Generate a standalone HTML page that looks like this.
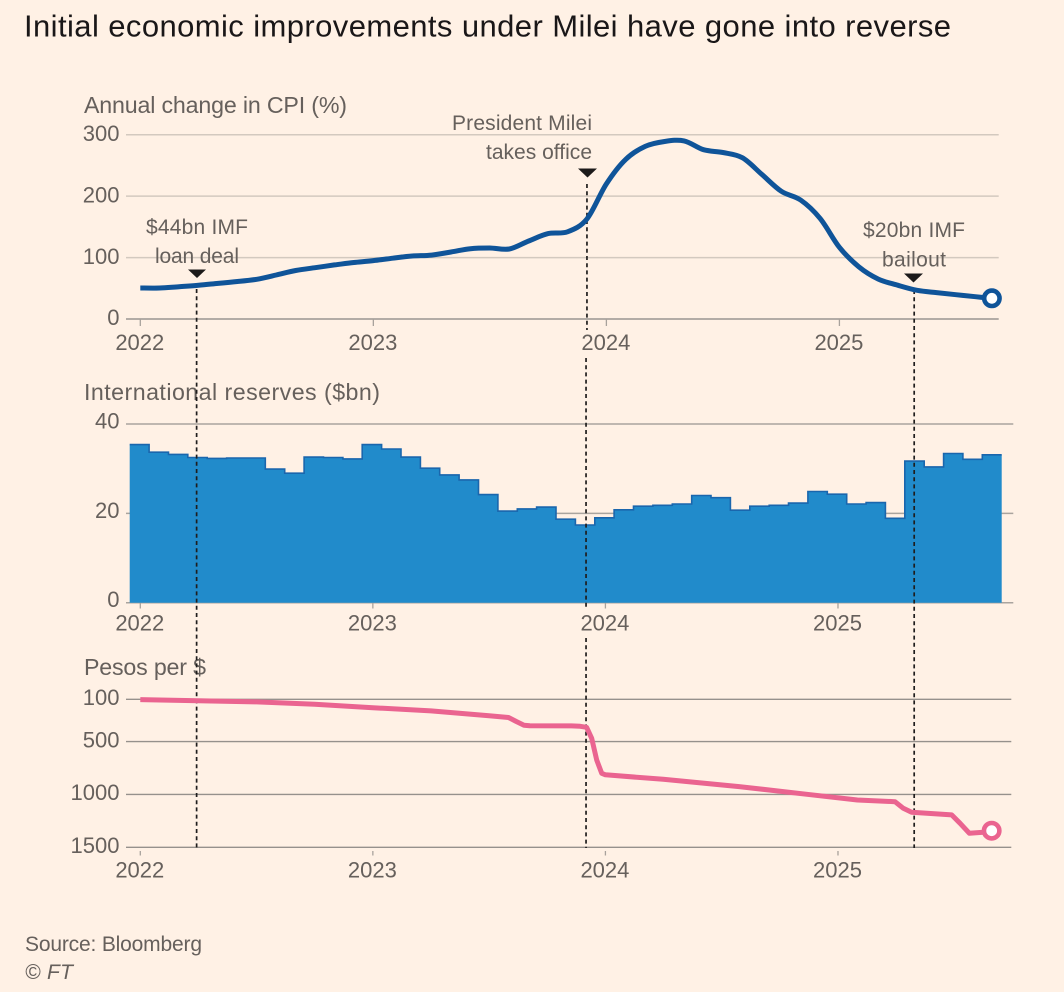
<!DOCTYPE html>
<html lang="en">
<head>
<meta charset="utf-8">
<title>Initial economic improvements under Milei have gone into reverse</title>
<style>
html,body{margin:0;padding:0;background:#fff1e5;}
svg{display:block;font-family:"Liberation Sans",sans-serif;}
.lab{fill:#66605c;font-size:22px;}
.ttl{fill:#66605c;font-size:23.2px;}
.note{fill:#66605c;font-size:21px;}
</style>
</head>
<body>
<svg id="chart" xmlns="http://www.w3.org/2000/svg" width="1064" height="992" viewBox="0 0 1064 992">
  <rect width="1064" height="992" fill="#fff1e5"/>
  <text x="24" y="36.5" font-size="31" fill="#1a1718" textLength="927" lengthAdjust="spacing">Initial economic improvements under Milei have gone into reverse</text>
  <text class="ttl" x="84" y="113" textLength="263" lengthAdjust="spacing">Annual change in CPI (%)</text>
  <text class="ttl" x="84" y="400" textLength="296" lengthAdjust="spacing">International reserves ($bn)</text>
  <text class="ttl" x="84" y="675" textLength="122" lengthAdjust="spacing">Pesos per $</text>
  <g id="layer"></g>
  <g>
    <text class="note" x="146" y="234" textLength="102" lengthAdjust="spacing">$44bn IMF</text>
    <text class="note" x="155" y="263" textLength="84" lengthAdjust="spacing">loan deal</text>
    <text class="note" x="452" y="130" textLength="140" lengthAdjust="spacing">President Milei</text>
    <text class="note" x="486" y="159" textLength="106" lengthAdjust="spacing">takes office</text>
    <text class="note" x="863" y="237" textLength="102" lengthAdjust="spacing">$20bn IMF</text>
    <text class="note" x="882" y="266.5" textLength="64" lengthAdjust="spacing">bailout</text>
    <polygon points="188,269.5 206,269.5 197,278" fill="#1c1a1a"/>
    <polygon points="578,168.5 597,168.5 587.5,177.5" fill="#1c1a1a"/>
    <polygon points="904,273.5 923,273.5 913.5,282.5" fill="#1c1a1a"/>
  </g>
  <text x="25" y="951" font-size="21" fill="#66605c" textLength="177" lengthAdjust="spacing">Source: Bloomberg</text>
  <text x="25" y="979" font-size="21" font-style="italic" fill="#66605c" textLength="48" lengthAdjust="spacing">© FT</text>
</svg>
<script>
const years = ["2022","2023","2024","2025"];
const cpiTicks = [0,100,200,300];
const reserveTicks = [0,20,40];
const pesoTicks = [100,500,1000,1500];

const cpiMonths = [0,1,2,3,4,5,6,7,8,9,10,11,12,13,14,15,16,17,18,19,20,21,22,23,24,25,26,27,28,29,30,31,32,33,34,35,36,37,38,39,40,41,42,43,43.85];
const cpiValues = [50.5,50.5,52.6,55,58,61,64.6,71.6,79,83.5,88,92,95,99,102.5,104,109,114.5,115.5,114,127,139,142,163,220,260,281,289,290,275.6,271,262.6,235.5,208,193.7,164,116.7,85,65,55,46.7,43,39.6,36.3,33.7];

const reserveValues = [35.4,33.7,33.2,32.5,32.3,32.4,32.4,29.9,29.0,32.6,32.5,32.2,35.4,34.4,32.6,30.1,28.6,27.5,24.2,20.5,21.0,21.4,18.7,17.4,19.0,20.8,21.6,21.8,22.1,24.0,23.5,20.7,21.6,21.8,22.3,24.9,24.3,22.1,22.4,18.9,31.7,30.4,33.4,32.1,33.1];

const pesoMonths = [0,3,6,9,12,15,18,19,19.4,19.8,20.1,22.25,22.7,23.03,23.29,23.55,23.81,24,26.98,30.9,34.4,37,38.94,39.37,39.8,41.87,42.3,42.78,43.5,43.93];
const pesoValues = [103,113,125,147,179,210,255,272,310,345,350,352,355,365,469,674,800,814,857,926,999,1053,1069,1131,1169,1194,1273,1368,1358,1343];

const eventMonths = [2.9,23,39.85];

const NS = "http://www.w3.org/2000/svg";
const layer = document.getElementById("layer");
function mk(tag, attrs, parent){
  const el = document.createElementNS(NS, tag);
  for (const k in attrs) el.setAttribute(k, attrs[k]);
  (parent || layer).appendChild(el);
  return el;
}
const xTop = m => 140.3 + m * 19.42;
const xLow = m => 140.3 + m * 19.38;
const yCpi = v => 319 - v * 0.6143;
const yRes = v => 602.7 - v * 4.467;
const yPeso = v => 699.3 + (v - 100) * 0.10571;
const barW = (1001.7 - 129.7) / 45;
const xBar = i => 129.7 + i * barW;

/* gridlines */
cpiTicks.forEach(t => {
  const g = mk("line",{x1:126,x2:998.7,y1:yCpi(t),y2:yCpi(t),stroke:t===0?"#a8a29c":"#d3c9bf","stroke-width":t===0?1.7:1.5});
  
  
  const l = mk("text",{x:119.5,y:yCpi(t)+6.2,"text-anchor":"end",class:"lab"});
  l.textContent = t;
  
  
});
reserveTicks.forEach(t => {
  const g = mk("line",{x1:126,x2:1013.3,y1:yRes(t),y2:yRes(t),stroke:"#aaa49e","stroke-width":1.5});
  
  
  const l = mk("text",{x:119.5,y:yRes(t)+4.5,"text-anchor":"end",class:"lab"});
  l.textContent = t;
  
  
});
pesoTicks.forEach(t => {
  const g = mk("line",{x1:126,x2:1011.3,y1:yPeso(t),y2:yPeso(t),stroke:"#96918c","stroke-width":1.4});
  
  
  const l = mk("text",{x:119.5,y:yPeso(t)+5.8,"text-anchor":"end",class:"lab"});
  l.textContent = t;
  
  
});

/* x axes */
years.forEach((yr,i) => {
  const m = i * 12;
  const a = mk("line",{x1:xTop(m),x2:xTop(m),y1:319,y2:326,stroke:"#a8a29c","stroke-width":1.3});
  
  
  const at = mk("text",{x:xTop(m)-0.5,y:350,"text-anchor":"middle",class:"lab"});
  at.textContent = yr;
  
  
  const b = mk("line",{x1:xLow(m),x2:xLow(m),y1:602.7,y2:608.5,stroke:"#a8a29c","stroke-width":1.3});
  
  
  const bt = mk("text",{x:xLow(m)-0.5,y:630.5,"text-anchor":"middle",class:"lab"});
  bt.textContent = yr;
  
  
  const c = mk("line",{x1:xLow(m),x2:xLow(m),y1:851,y2:855.5,stroke:"#a8a29c","stroke-width":1.3});
  
  
  const ct = mk("text",{x:xLow(m)-0.5,y:877.5,"text-anchor":"middle",class:"lab"});
  ct.textContent = yr;
  
  
});

/* reserves stepped area */
let stepPath = "";
reserveValues.forEach((v,i) => {
  stepPath += (i === 0 ? "M" : "L") + xBar(i).toFixed(1) + " " + yRes(v).toFixed(1) + " L" + xBar(i+1).toFixed(1) + " " + yRes(v).toFixed(1) + " ";
});
const area = mk("path",{d:stepPath + "L" + xBar(reserveValues.length).toFixed(1) + " 602.7 L" + xBar(0).toFixed(1) + " 602.7 Z",fill:"#218bcb"});


const areaTop = mk("path",{d:stepPath,fill:"none",stroke:"#1a66ad","stroke-width":1.6});



/* dashed event lines */
const dash = {stroke:"#1f1d1d","stroke-width":1.7,"stroke-dasharray":"4 3.2"};
[
  {x1:xTop(eventMonths[0]),y1:289,y2:848},
  {x1:xTop(eventMonths[1]),y1:184,y2:330},
  {x1:xLow(eventMonths[1]),y1:358,y2:607},
  {x1:xLow(eventMonths[1]),y1:638,y2:848},
  {x1:xTop(eventMonths[2]),y1:290,y2:848}
].forEach(s => {
  const d = mk("line",Object.assign({x1:s.x1,x2:s.x1,y1:s.y1,y2:s.y2},dash));
  
  
});

/* CPI smooth line */
function smooth(pts){
  let d = "M" + pts[0][0].toFixed(1) + " " + pts[0][1].toFixed(1);
  for (let i = 0; i < pts.length - 1; i++){
    const p0 = pts[Math.max(i-1,0)], p1 = pts[i], p2 = pts[i+1], p3 = pts[Math.min(i+2,pts.length-1)];
    const c1x = p1[0] + (p2[0]-p0[0])/6, c1y = p1[1] + (p2[1]-p0[1])/6;
    const c2x = p2[0] - (p3[0]-p1[0])/6, c2y = p2[1] - (p3[1]-p1[1])/6;
    d += " C" + c1x.toFixed(1) + " " + c1y.toFixed(1) + " " + c2x.toFixed(1) + " " + c2y.toFixed(1) + " " + p2[0].toFixed(1) + " " + p2[1].toFixed(1);
  }
  return d;
}
const cpiPts = cpiMonths.map((m,i) => [xTop(m), yCpi(cpiValues[i])]);
const cpiLine = mk("path",{d:smooth(cpiPts),fill:"none",stroke:"#0f5499","stroke-width":5,"stroke-linejoin":"round"});


const cpiEnd = cpiPts[cpiPts.length-1];
const cpiDot = mk("circle",{cx:cpiEnd[0],cy:cpiEnd[1],r:7.7,fill:"#ffffff",stroke:"#0f5499","stroke-width":4.6});



/* pesos line */
const pesoPts = pesoMonths.map((m,i) => [xLow(m), yPeso(pesoValues[i])]);
const pesoLine = mk("polyline",{points:pesoPts.map(p => p[0].toFixed(1)+","+p[1].toFixed(1)).join(" "),fill:"none",stroke:"#ea6490","stroke-width":5,"stroke-linejoin":"round"});


const pesoEnd = pesoPts[pesoPts.length-1];
const pesoDot = mk("circle",{cx:pesoEnd[0],cy:pesoEnd[1],r:7.7,fill:"#ffffff",stroke:"#ea6490","stroke-width":4.6});


</script>
</body>
</html>
